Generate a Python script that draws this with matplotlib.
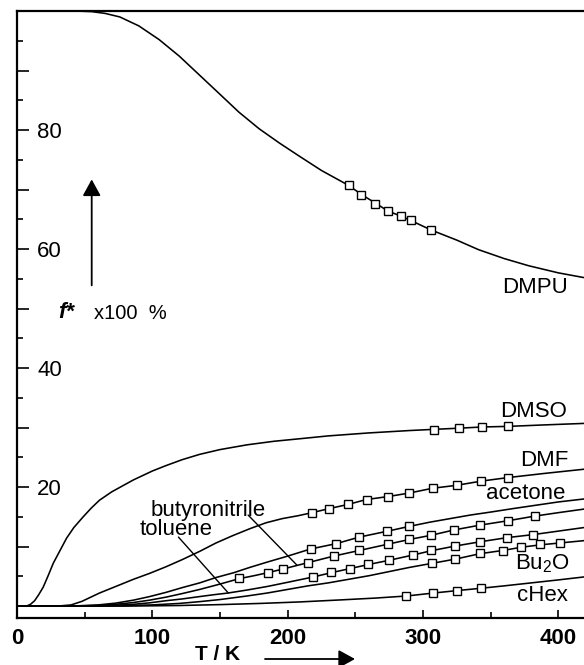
import numpy as np
import matplotlib
matplotlib.use("Agg")
import matplotlib.pyplot as plt
from matplotlib.ticker import FixedLocator, MultipleLocator

plt.rcParams['font.family'] = ['Liberation Sans', 'DejaVu Sans']

# curves: T in K, f* x 100 in %
dmpu_T = [0, 30, 45, 55, 65, 76, 90, 105, 120, 135, 150, 164, 179, 194, 208, 225, 245, 255, 265,
          274, 284, 291, 306, 325, 341, 360, 378, 400, 419]
dmpu_v = [100, 100, 99.98, 99.9, 99.6, 99.0, 97.5, 95.2, 92.4, 89.2, 86.0, 83.0, 80.2, 77.8, 75.7,
          73.2, 70.7, 69.1, 67.7, 66.4, 65.5, 64.8, 63.2, 61.5, 59.9, 58.4, 57.2, 56.0, 55.2]
dmpu_mT = [245, 254.5, 264.6, 274.1, 284, 291.3, 306.3]
dmpu_mv = [70.7, 69.1, 67.6, 66.4, 65.6, 64.8, 63.2]

dmso_T = [0, 7, 10, 13, 16, 19.4, 23, 26.8, 31, 36.6, 42, 48.9, 55, 61, 70, 86, 100, 110, 122, 135,
          150, 170, 190, 208, 230, 260, 290, 308, 327, 344, 363, 390, 419]
dmso_v = [0, 0, 0.3, 0.9, 1.9, 3.2, 5.1, 7.2, 9.0, 11.4, 13.2, 15.0, 16.5, 17.8, 19.2, 21.2, 22.7,
          23.6, 24.6, 25.5, 26.3, 27.1, 27.7, 28.1, 28.6, 29.1, 29.5, 29.7, 29.9, 30.1, 30.2, 30.45, 30.7]
dmso_mT = [307.8, 326.5, 343.6, 362.8]
dmso_mv = [29.6, 29.9, 30.1, 30.2]

dmf_T = [0, 30, 40, 48, 61, 73, 86, 98, 110, 122, 135, 147, 159, 172, 184, 196, 208, 218, 231, 245,
         258, 274, 290, 307, 325, 343, 363, 390, 419]
dmf_v = [0, 0, 0.2, 0.8, 2.2, 3.3, 4.5, 5.5, 6.6, 7.8, 9.2, 10.6, 11.8, 13.0, 14.0, 14.7, 15.2, 15.7,
         16.4, 17.1, 17.9, 18.4, 19.0, 19.8, 20.3, 21.0, 21.6, 22.3, 23.0]
dmf_mT = [218, 230.7, 244.9, 258.4, 274, 289.6, 307.3, 325, 343, 362.8]
dmf_mv = [15.7, 16.4, 17.1, 17.9, 18.4, 19.0, 19.8, 20.3, 21.1, 21.6]

acetone_T = [0, 40, 60, 73, 86, 98, 110, 122, 135, 147, 160, 172, 185, 200, 217, 236, 253, 274, 290,
             305, 320, 335, 350, 367, 385, 400, 419]
acetone_v = [0, 0, 0.2, 0.5, 1.0, 1.6, 2.3, 3.1, 3.9, 4.8, 5.6, 6.5, 7.4, 8.4, 9.6, 10.5, 11.6, 12.6,
             13.4, 14.1, 14.7, 15.3, 15.8, 16.4, 17.0, 17.5, 18.0]
acetone_mT = [217.2, 235.6, 252.8, 273.6, 289.6]
acetone_mv = [9.6, 10.5, 11.6, 12.6, 13.4]

butyro_T = [0, 40, 60, 73, 86, 98, 110, 122, 135, 150, 164, 175, 185, 196, 215, 234, 253, 274, 290,
            306, 323, 342, 363, 382, 400, 419]
butyro_v = [0, 0, 0.1, 0.3, 0.6, 1.0, 1.5, 2.1, 2.8, 3.7, 4.6, 5.1, 5.6, 6.2, 7.3, 8.4, 9.35, 10.4,
            11.2, 11.9, 12.8, 13.6, 14.35, 15.1, 15.7, 16.3]
butyro_mT = [164.3, 185.2, 196.3, 214.7, 234.3, 252.8, 274.4, 289.6, 305.6, 322.8, 342.4, 362.8, 382.5]
butyro_mv = [4.65, 5.5, 6.3, 7.3, 8.4, 9.4, 10.4, 11.2, 11.9, 12.8, 13.6, 14.3, 15.1]

toluene_T = [0, 50, 70, 86, 98, 110, 122, 135, 145, 156, 170, 185, 200, 219, 232, 246, 260, 275, 293,
             306, 324, 342, 362, 381, 400, 419]
toluene_v = [0, 0, 0.1, 0.3, 0.55, 0.9, 1.2, 1.6, 1.9, 2.2, 2.7, 3.3, 4.0, 4.9, 5.6, 6.3, 7.0, 7.7,
             8.6, 9.3, 10.1, 10.8, 11.5, 12.0, 12.6, 13.2]
toluene_mT = [218.9, 231.9, 245.9, 259.6, 274.9, 292.6, 305.8, 323.5, 342.4, 362, 381.2]
toluene_mv = [4.9, 5.7, 6.3, 7.0, 7.7, 8.6, 9.4, 10.1, 10.8, 11.5, 11.9]

bu2o_T = [0, 50, 80, 100, 120, 135, 150, 170, 185, 200, 215, 230, 245, 260, 275, 290, 307, 324, 342,
          359, 373, 387, 401, 419]
bu2o_v = [0, 0, 0.1, 0.2, 0.45, 0.75, 1.1, 1.7, 2.2, 2.8, 3.4, 3.9, 4.5, 5.1, 5.8, 6.5, 7.2, 7.9, 8.8,
          9.35, 9.9, 10.3, 10.6, 11.0]
bu2o_mT = [306.8, 323.5, 342.4, 358.9, 372.6, 386.6, 400.9]
bu2o_mv = [7.2, 7.9, 8.9, 9.3, 9.9, 10.4, 10.6]

chex_T = [0, 80, 120, 150, 180, 209, 240, 265, 288, 308, 325, 343, 360, 380, 400, 419]
chex_v = [0, 0, 0.1, 0.25, 0.45, 0.7, 1.05, 1.35, 1.7, 2.2, 2.6, 3.0, 3.4, 3.9, 4.4, 4.9]
chex_mT = [287.6, 307.5, 325.2, 343.2]
chex_mv = [1.7, 2.2, 2.6, 3.0]

curves = [
    (dmpu_T, dmpu_v, dmpu_mT, dmpu_mv),
    (dmso_T, dmso_v, dmso_mT, dmso_mv),
    (dmf_T, dmf_v, dmf_mT, dmf_mv),
    (acetone_T, acetone_v, acetone_mT, acetone_mv),
    (butyro_T, butyro_v, butyro_mT, butyro_mv),
    (toluene_T, toluene_v, toluene_mT, toluene_mv),
    (bu2o_T, bu2o_v, bu2o_mT, bu2o_mv),
    (chex_T, chex_v, chex_mT, chex_mv),
]

ytick_vals = [0, 10, 20, 30, 40, 50, 60, 70, 80, 90, 100]
ytick_text = ['', '', '20', '', '40', '', '60', '', '80', '', '']
xtick_vals = [0, 100, 200, 300, 400]

fig = plt.figure(figsize=(5.84, 6.65), dpi=100)
ax = fig.add_axes([17 / 584, 47 / 665, 1 - 17 / 584, 607 / 665])

for T, v, mT, mv in curves:
    ax.plot(T, v, color='black', lw=1.15, zorder=2)
    ax.plot(mT, mv, ls='none', marker='s', ms=5.7, mfc='white', mec='black', mew=1.0, zorder=3)

ax.set_xlim(0, 419)
ax.set_ylim(-2, 100)

ax.spines['right'].set_visible(False)
for s in ['left', 'bottom', 'top']:
    ax.spines[s].set_linewidth(1.6)

ax.xaxis.set_major_locator(FixedLocator(xtick_vals))
ax.xaxis.set_minor_locator(MultipleLocator(50))
ax.set_xticklabels([str(t) for t in xtick_vals], fontsize=16, fontweight='bold')
ax.tick_params(axis='x', which='major', direction='in', length=6, width=1.2, pad=7)
ax.tick_params(axis='x', which='minor', direction='in', length=4, width=1.2)

ax.yaxis.set_major_locator(FixedLocator(ytick_vals))
ax.yaxis.set_minor_locator(MultipleLocator(5))
ax.set_yticklabels(ytick_text, fontsize=16)
ax.tick_params(axis='y', which='major', direction='in', length=8.5, width=1.2, pad=-14.5)
ax.tick_params(axis='y', which='minor', direction='in', length=4.5, width=1.2)
for lbl in ax.get_yticklabels():
    lbl.set_horizontalalignment('left')

# curve labels
lab = dict(ha='center', va='center', fontsize=16)
ax.text(383.0, 53.6, 'DMPU', **lab)
ax.text(381.5, 32.65, 'DMSO', **lab)
ax.text(389.6, 24.5, 'DMF', **lab)
ax.text(375.6, 19.0, 'acetone', **lab)
ax.text(388.2, 7.1, r'Bu$_\mathregular{2}$O', **lab)
ax.text(388.2, 1.7, 'cHex', **lab)
ax.text(141.2, 16.1, 'butyronitrile', **lab)
ax.text(117.9, 12.8, 'toluene', **lab)
ax.annotate('', xy=(206.8, 6.9), xytext=(170.8, 15.3),
            arrowprops=dict(arrowstyle='-', lw=1.0, color='black', shrinkA=0, shrinkB=0))
ax.annotate('', xy=(156.2, 2.2), xytext=(119.3, 11.6),
            arrowprops=dict(arrowstyle='-', lw=1.0, color='black', shrinkA=0, shrinkB=0))

# y axis label with arrow
ax.text(36.0, 49.3, 'f*', ha='center', va='center', fontsize=16, fontstyle='italic', fontweight='bold')
ax.text(83.5, 49.2, 'x100  %', ha='center', va='center', fontsize=14.5)
ax.annotate('', xy=(55.2, 71.7), xytext=(55.2, 53.9),
            arrowprops=dict(arrowstyle='-|>,head_length=1.0,head_width=0.55', mutation_scale=10,
                            lw=1.3, color='black', shrinkA=0, shrinkB=0))

# x axis label with arrow
fig.text(217.5 / 584, 1 - 655 / 665, 'T / K', ha='center', va='center', fontsize=15, fontweight='bold')
ax.annotate('', xy=(355 / 584, 6 / 665), xytext=(265 / 584, 6 / 665), xycoords='figure fraction',
            textcoords='figure fraction', annotation_clip=False,
            arrowprops=dict(arrowstyle='-|>,head_length=1.0,head_width=0.55', mutation_scale=10,
                            lw=1.3, color='black', shrinkA=0, shrinkB=0))

fig.savefig('out.png', dpi=100)
